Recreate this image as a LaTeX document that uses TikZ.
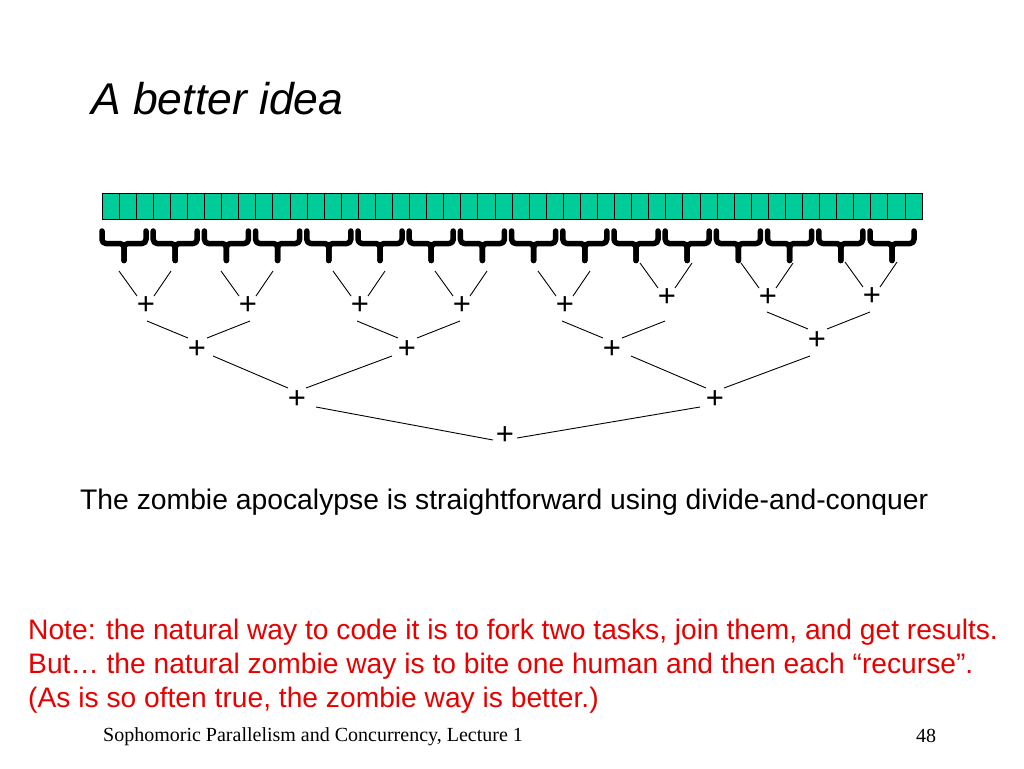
\documentclass[tikz,border=0pt]{standalone}
\usepackage{fontspec}
\setmainfont{Liberation Sans}
\newfontfamily\timesfont{Liberation Serif}
\usetikzlibrary{calc}
\definecolor{cellgreen}{RGB}{0,204,153}
\definecolor{notered}{RGB}{232,0,0}
\begin{document}
\begin{tikzpicture}[x=1pt,y=-1pt,
  cell/.style={draw=black, line width=0.8pt, fill=cellgreen, minimum width=17.083pt, minimum height=26pt, inner sep=0pt, outer sep=0pt, anchor=north west},
  bracepath/.style={line width=5.5pt, line cap=round, line join=round, rounded corners=4pt},
  plus/.style={inner sep=0pt, anchor=base, yshift=-11pt, font=\fontsize{31}{31}\selectfont},
  link/.style={line width=0.9pt},
  txt/.style={anchor=base west, inner sep=0pt},
]
\useasboundingbox (0,0) rectangle (1024,768);
% array
\foreach \i in {0,...,47} \node[cell] (c\i) at ({102+17.083*\i},193) {};
% braces
\foreach \i in {0,...,15} {
  \pgfmathsetmacro\L{102+51.2*\i}
  \pgfmathsetmacro\C{\L+22}
  \pgfmathsetmacro\R{\L+44}
  \draw[bracepath] (\L,231) -- (\L,243.5) -- (\C,243.5) -- (\C,260.5);
  \draw[bracepath] (\R,231) -- (\R,243.5) -- (\C,243.5) -- (\C,260.5);
}
% level 1
\node[plus] (a1) at (146,303) {+};
\node[plus] (a2) at (248,303) {+};
\node[plus] (a3) at (360,303) {+};
\node[plus] (a4) at (462,303) {+};
\node[plus] (a5) at (565,303) {+};
\node[plus] (a6) at (667,295) {+};
\node[plus] (a7) at (768,295) {+};
\node[plus] (a8) at (872,294) {+};
% level 2
\node[plus] (b1) at (197,347) {+};
\node[plus] (b2) at (407,347) {+};
\node[plus] (b3) at (612,347) {+};
\node[plus] (b4) at (817,338) {+};
% level 3
\node[plus] (d1) at (297,397) {+};
\node[plus] (d2) at (715,397) {+};
% level 4
\node[plus] (e1) at (505,433) {+};
% links (offsets from each plus's ink centre, 11pt above its baseline)
\foreach \n in {a1,a2,a3,a4,a5,a6,a7,a8} {
  \draw[link] ($(\n.base)+(-27,-43)$) -- ($(\n.base)+(-9,-18)$);
  \draw[link] ($(\n.base)+(25,-43)$) -- ($(\n.base)+(8,-18)$);
}
\foreach \n in {b1,b2,b3,b4} {
  \draw[link] ($(\n.base)+(-50,-37)$) -- ($(\n.base)+(-9,-20)$);
  \draw[link] ($(\n.base)+(53,-37)$) -- ($(\n.base)+(10,-20)$);
}
\foreach \n in {d1,d2} {
  \draw[link] ($(\n.base)+(-84,-52)$) -- ($(\n.base)+(-9,-20)$);
  \draw[link] ($(\n.base)+(95,-52)$) -- ($(\n.base)+(9,-20)$);
}
\draw[link] ($(e1.base)+(-189,-37)$) -- ($(e1.base)+(-12,-4)$);
\draw[link] ($(e1.base)+(195,-37)$) -- ($(e1.base)+(12,-6)$);
% texts
\node[txt, font=\fontsize{44.5}{44.5}\selectfont\itshape] (title) at (91,114) {A better idea};
\node[txt, font=\fontsize{28.3}{28.3}\selectfont] (caption) at (80,509) {The zombie apocalypse is straightforward using divide-and-conquer};
\node[txt, font=\fontsize{28.2}{28.2}\selectfont, text=notered] (note1) at (28,639) {Note: the natural way to code it is to fork two tasks, join them, and get results.};
\node[txt, font=\fontsize{28.2}{28.2}\selectfont, text=notered] (note2) at (28,673) {But… the natural zombie way is to bite one human and then each “recurse”.};
\node[txt, font=\fontsize{28.2}{28.2}\selectfont, text=notered] (note3) at (28,707) {(As is so often true, the zombie way is better.)};
\node[txt, font=\timesfont\fontsize{20}{20}\selectfont] (footer) at (103,741) {Sophomoric Parallelism and Concurrency, Lecture 1};
\node[txt, font=\timesfont\fontsize{20}{20}\selectfont] (pagenum) at (916,742) {48};
\end{tikzpicture}
\end{document}
